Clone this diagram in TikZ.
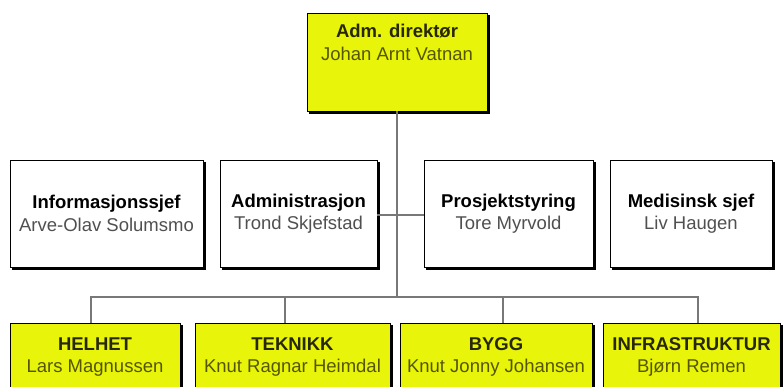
\documentclass[tikz,border=0pt]{standalone}
\usepackage{fontspec}
\setmainfont{Liberation Sans}
\usetikzlibrary{backgrounds}
\definecolor{boxyellow}{RGB}{232,245,10}
\definecolor{olivehead}{RGB}{40,40,0}
\definecolor{olivetxt}{RGB}{85,85,0}
\definecolor{graytxt}{RGB}{80,80,80}
\definecolor{linegray}{RGB}{120,120,120}
\begin{document}
\begin{tikzpicture}[x=1pt,y=-1pt,
  txtfont/.style={font=\fontsize{18.5}{22.5}\selectfont},
  box/.style={draw=black, line width=0.8pt, align=center, inner sep=0pt, txtfont},
  ybox/.style={box, fill=boxyellow},
  wbox/.style={box, fill=white},
  shadowfill/.style={fill=black},
  conn/.style={draw=linegray, line width=1.3pt}]
\useasboundingbox (0,0) rectangle (784,387);
\clip (0,0) rectangle (784,387);

% top
\node[ybox, minimum width=180pt, minimum height=98pt] (dir) at (397,62) {};
\node[txtfont, align=center, inner sep=0pt, anchor=north] (dirtxt) at (397,24)
  {\textcolor{olivehead}{\textbf{Adm. direktør}}\\\textcolor{olivetxt}{Johan Arnt Vatnan}};

\coordinate (bus) at (397,297);
\coordinate (mid) at (397,215);

% middle row
\node[wbox, minimum width=193pt, minimum height=107pt] (m1) at (106.5,213.5)
  {\textbf{Informasjonssjef}\\\textcolor{graytxt}{Arve-Olav Solumsmo}};
\node[wbox, minimum width=157pt, minimum height=107pt] (m2) at (298.5,213.5)
  {\textbf{Administrasjon}\\\textcolor{graytxt}{Trond Skjefstad}};
\node[wbox, minimum width=169pt, minimum height=107pt] (m3) at (508.5,213.5)
  {\textbf{Prosjektstyring}\\\textcolor{graytxt}{Tore Myrvold}};
\node[wbox, minimum width=162pt, minimum height=107pt] (m4) at (691,213.5)
  {\textbf{Medisinsk sjef}\\\textcolor{graytxt}{Liv Haugen}};

% bottom row
\node[ybox, minimum width=170pt, minimum height=68pt] (b1) at (95,357)
  {\textcolor{olivehead}{\textbf{HELHET}}\\\textcolor{olivetxt}{Lars Magnussen}};
\node[ybox, minimum width=195pt, minimum height=68pt] (b2) at (292.5,357)
  {\textcolor{olivehead}{\textbf{TEKNIKK}}\\\textcolor{olivetxt}{Knut Ragnar Heimdal}};
\node[ybox, minimum width=192pt, minimum height=68pt] (b3) at (496,357)
  {\textcolor{olivehead}{\textbf{BYGG}}\\\textcolor{olivetxt}{Knut Jonny Johansen}};
\node[ybox, minimum width=177pt, minimum height=68pt] (b4) at (691.5,357)
  {\textcolor{olivehead}{\textbf{INFRASTRUKTUR}}\\\textcolor{olivetxt}{Bjørn Remen}};

% shadows
\begin{scope}[on background layer]
\foreach \n in {dir,m1,m2,m3,m4,b1,b2,b3,b4}{
  \fill[shadowfill] ([xshift=2.8pt,yshift=-2.8pt]\n.south west) rectangle ([xshift=2.8pt,yshift=-2.8pt]\n.north east);
}
\end{scope}

% connectors
\draw[conn] (dir.south) -- (bus);
\draw[conn] (m2.east |- mid) -- (m3.west |- mid);
\draw[conn] ([xshift=-4pt]b1.north) |- (bus) -| ([xshift=6.5pt]b4.north);
\draw[conn] ([xshift=-7.5pt]b2.north) |- (bus);
\draw[conn] ([xshift=7pt]b3.north) |- (bus);
\end{tikzpicture}
\end{document}
